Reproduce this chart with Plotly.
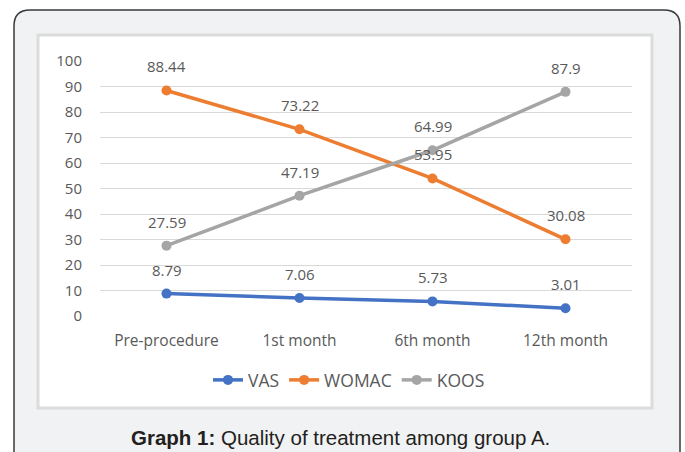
import plotly.graph_objects as go

categories = ["Pre-procedure", "1st month", "6th month", "12th month"]
vas = [8.79, 7.06, 5.73, 3.01]
womac = [88.44, 73.22, 53.95, 30.08]
koos = [27.59, 47.19, 64.99, 87.9]
y_ticks = [0, 10, 20, 30, 40, 50, 60, 70, 80, 90, 100]

W, H = 685, 452
L, R, T, B = 100, 632, 61, 316  # plot area in px


def fx(px):
    return (px - L) / (R - L)


def fy(py):
    return 1 - (py - T) / (B - T)


series = [("VAS", vas, "#4472C4"), ("WOMAC", womac, "#ED7D31"), ("KOOS", koos, "#A5A5A5")]

fig = go.Figure()
annotations = []
for name, vals, col in series:
    fig.add_trace(go.Scatter(
        x=categories, y=vals, name=name, mode="lines+markers",
        line=dict(color=col, width=3.5),
        marker=dict(color=col, size=10),
    ))
    for c, v in zip(categories, vals):
        annotations.append(dict(
            x=c, y=v, xref="x", yref="y", text=f"{v:g}", showarrow=False,
            yshift=24, font=dict(family="Open Sans", size=15, color="#595959"),
        ))

annotations.append(dict(
    x=fx(340), y=fy(437), xref="paper", yref="paper",
    text="<b>Graph 1:</b> Quality of treatment among group A.",
    showarrow=False, xanchor="center", yanchor="middle",
    font=dict(family="Liberation Sans", size=20.5, color="#231f20"),
))

# outer rounded rectangle
x0, x1, y0, y1, r = 14, 680, 10, 470, 16
path = (f"M {fx(x0)},{fy(y0 + r)} Q {fx(x0)},{fy(y0)} {fx(x0 + r)},{fy(y0)} "
        f"L {fx(x1 - r)},{fy(y0)} Q {fx(x1)},{fy(y0)} {fx(x1)},{fy(y0 + r)} "
        f"L {fx(x1)},{fy(y1)} L {fx(x0)},{fy(y1)} Z")
shapes = [
    dict(type="path", path=path, xref="paper", yref="paper", layer="below",
         fillcolor="#f1f2f3", line=dict(color="#3a3a3a", width=1.5)),
    dict(type="rect", xref="paper", yref="paper", layer="below",
         x0=fx(38), x1=fx(652), y0=fy(35), y1=fy(408),
         fillcolor="#ffffff", line=dict(color="#dcdcdc", width=3)),
]

fig.update_layout(
    width=W, height=H,
    margin=dict(l=L, r=W - R, t=T, b=H - B, pad=0),
    paper_bgcolor="#ffffff", plot_bgcolor="rgba(0,0,0,0)",
    showlegend=True,
    legend=dict(orientation="h", x=fx(349), xanchor="center", y=fy(380), yanchor="middle",
                font=dict(family="Open Sans", size=17.5, color="#595959"),
                bgcolor="rgba(0,0,0,0)", itemwidth=30, tracegroupgap=0),
    xaxis=dict(range=[-0.5, 3.5], showgrid=False, zeroline=False, showline=False,
               ticks="", tickfont=dict(family="Open Sans", size=15.5, color="#595959"),
               ticklabelstandoff=13),
    yaxis=dict(range=[0, 100], tickvals=y_ticks, showgrid=True, gridcolor="#d9d9d9",
               gridwidth=1.2, zeroline=False, showline=False, ticks="",
               tickfont=dict(family="Open Sans", size=15, color="#595959"),
               ticklabelstandoff=17),
    annotations=annotations, shapes=shapes,
)

fig.write_html("out.html", config={"displayModeBar": False},
               post_script="document.body.style.margin='0';document.body.style.padding='0';")
